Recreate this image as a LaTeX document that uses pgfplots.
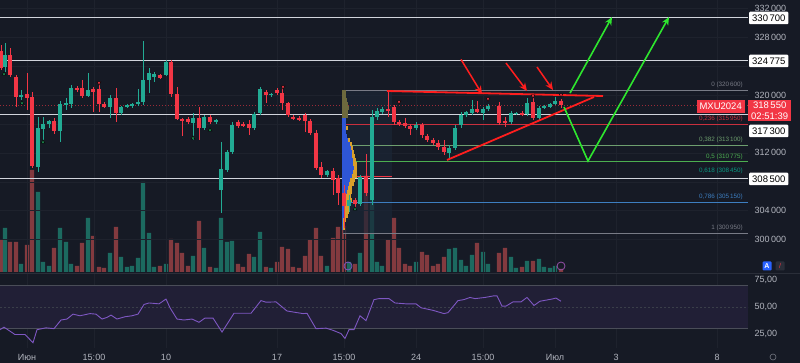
\documentclass[border=0pt]{standalone}
\usepackage{pgfplots}
\pgfplotsset{compat=1.18}
\usepackage{pgfplotstable}
\usepackage{fontspec}
\setmainfont{Liberation Sans}
\usetikzlibrary{arrows.meta}

\definecolor{bg}{HTML}{161A25}
\definecolor{gridc}{HTML}{1E222D}
\definecolor{tgray}{HTML}{B2B5BE}
\definecolor{hline}{HTML}{D1D4DC}
\definecolor{cup}{HTML}{22AB94}
\definecolor{cdn}{HTML}{F23645}
\definecolor{vup}{HTML}{1C6A60}
\definecolor{vdn}{HTML}{833A3F}
\definecolor{rsic}{HTML}{7E57C2}
\definecolor{rsiband}{HTML}{211F36}
\definecolor{rsilvl}{HTML}{4A4D58}
\definecolor{fibgray}{HTML}{787B86}
\definecolor{fibred}{HTML}{C9303E}
\definecolor{fib382}{HTML}{6E9F6F}
\definecolor{fib5}{HTML}{4CAF50}
\definecolor{fib618}{HTML}{089981}
\definecolor{fib786}{HTML}{3D7EC0}
\definecolor{vpblue}{HTML}{2E56D6}
\definecolor{vpyel}{HTML}{D9A02B}
\definecolor{vpolive}{HTML}{6D6A3E}
\definecolor{boxfill}{HTML}{1B2636}
\definecolor{trred}{HTML}{FF1E1E}
\definecolor{trgreen}{HTML}{2EE62E}
\definecolor{sigup}{HTML}{1E8A50}
\definecolor{abtn}{HTML}{2962FF}
\definecolor{sepc}{HTML}{2A2E39}

% up candles: x open high low close (thousands)
\pgfplotstableread[row sep=\\]{
x o h l c\\
5 323.9 327.2 323.2 325.5\\
21 319.7 320.7 319.3 320.0\\
38 310.1 317.0 309.4 315.4\\
43 315.3 317.0 313.8 316.0\\
49 316.0 316.5 315.4 316.4\\
60 315.0 319.2 313.5 318.7\\
66 318.6 319.6 317.9 318.9\\
71 318.7 321.4 318.2 321.0\\
88 319.8 323.0 319.7 320.7\\
110 318.3 320.0 316.8 319.6\\
121 317.5 318.5 317.2 318.3\\
127 318.3 318.7 318.2 318.6\\
132 318.5 318.9 318.2 318.7\\
138 318.7 320.8 318.5 319.0\\
143 319.0 327.4 318.6 322.1\\
149 322.1 323.7 320.3 323.0\\
154 322.5 323.2 321.8 322.9\\
166 322.7 324.8 322.6 324.5\\
193 316.1 317.5 313.8 316.8\\
204 315.4 317.2 315.2 317.0\\
216 316.3 316.7 316.0 316.5\\
221 306.9 313.5 303.7 309.8\\
227 309.6 312.4 309.4 312.1\\
232 312.1 316.3 311.8 315.9\\
254 315.4 317.6 315.2 317.4\\
260 317.5 321.1 317.2 320.8\\
271 320.0 320.3 319.7 320.15\\
327 308.9 309.6 308.7 309.5\\
349 304.7 306.2 303.8 305.5\\
360 304.9 308.9 304.7 308.7\\
372 305.5 317.9 304.8 317.0\\
377 317.0 318.2 316.5 317.8\\
382 317.6 318.3 317.4 318.1\\
416 315.4 316.3 315.2 315.9\\
449 312.0 313.1 311.3 312.7\\
455 312.7 315.9 312.4 315.4\\
461 315.9 317.6 315.4 317.2\\
466 317.2 317.8 317.0 317.6\\
472 317.5 319.3 317.2 318.1\\
483 317.5 318.3 316.5 318.1\\
488 318.1 318.7 317.8 318.5\\
511 316.3 317.8 316.0 317.5\\
516 317.4 317.7 317.2 317.55\\
527 317.4 319.6 317.1 318.9\\
539 316.8 318.5 316.5 318.2\\
544 318.2 318.6 318.1 318.5\\
550 318.3 318.9 318.2 318.7\\
555 318.7 319.7 318.6 319.2\\
}\upT

% down candles
\pgfplotstableread[row sep=\\]{
x o h l c\\
1 326.1 326.9 323.4 323.7\\
10 325.5 326.5 322.5 322.7\\
16 322.5 322.7 318.3 319.7\\
27 320.1 323.0 317.9 319.6\\
32 319.7 320.4 309.9 310.2\\
54 316.4 316.8 314.6 315.0\\
77 321.0 321.2 320.4 320.7\\
82 321.0 322.1 319.6 319.8\\
93 320.8 321.1 317.6 320.4\\
99 320.8 321.8 317.6 318.7\\
104 318.7 319.0 318.2 318.3\\
116 319.6 321.0 316.3 317.5\\
160 322.7 322.9 322.2 322.3\\
171 324.5 324.8 319.7 320.1\\
177 320.1 321.1 316.5 316.7\\
182 316.7 316.8 314.3 316.4\\
188 316.7 317.0 316.0 316.3\\
199 316.8 318.3 313.8 315.4\\
210 317.0 317.2 316.0 316.3\\
238 316.3 316.5 315.4 315.7\\
243 316.0 316.3 315.6 315.7\\
249 316.0 316.5 314.5 315.4\\
266 320.4 320.7 318.9 320.0\\
277 320.7 321.0 320.0 320.3\\
282 320.3 321.2 317.9 318.9\\
288 318.9 319.0 317.0 317.2\\
293 317.0 317.2 316.5 316.7\\
299 316.8 317.1 316.4 316.5\\
305 317.2 317.5 314.9 316.4\\
310 316.4 316.7 314.5 314.7\\
316 314.7 315.2 309.6 309.9\\
321 310.1 310.7 308.5 308.9\\
333 309.5 309.9 306.2 308.3\\
338 308.5 308.9 304.8 306.5\\
344 306.5 307.6 301.6 304.7\\
355 305.5 305.8 304.4 304.9\\
366 308.7 311.8 306.1 306.5\\
388 318.1 320.7 317.0 317.8\\
394 318.3 318.6 315.9 316.3\\
399 316.3 316.5 315.7 316.0\\
405 316.1 316.8 315.4 315.7\\
410 315.7 316.0 314.5 315.3\\
422 315.9 316.1 314.1 314.5\\
427 314.3 314.6 313.5 313.8\\
433 313.8 314.1 313.1 313.4\\
438 313.4 313.8 312.4 312.8\\
444 312.8 313.8 311.7 312.1\\
477 318.1 319.2 317.5 317.6\\
499 318.5 319.0 315.9 316.1\\
505 316.4 317.0 315.6 316.1\\
522 317.5 317.8 317.1 317.2\\
533 319.0 319.6 316.5 316.8\\
561 319.2 319.4 318.2 318.55\\
}\dnT

% volumes (arbitrary units)
\pgfplotstableread[row sep=\\]{
x v\\
5 44\\ 21 8\\ 38 80\\ 43 10\\ 49 6\\ 60 44\\ 66 30\\ 71 8\\ 88 54\\ 110 19\\
121 15\\ 127 5\\ 132 6\\ 138 14\\ 143 90\\ 149 39\\ 154 5\\ 166 8\\ 193 16\\ 204 24\\
216 4\\ 221 54\\ 227 30\\ 232 31\\ 254 15\\ 260 40\\ 271 4\\ 327 6\\ 349 10\\ 360 19\\
372 75\\ 377 10\\ 382 6\\ 416 10\\ 449 23\\ 455 24\\ 461 12\\ 466 6\\ 472 17\\ 483 20\\
488 8\\ 511 15\\ 516 4\\ 527 11\\ 539 13\\ 544 5\\ 550 4\\ 555 6\\
}\volU
\pgfplotstableread[row sep=\\]{
x v\\
1 32\\ 10 30\\ 16 30\\ 27 27\\ 32 102\\ 54 24\\ 77 6\\ 82 29\\ 93 36\\ 99 5\\
104 4\\ 116 45\\ 160 6\\ 171 33\\ 177 29\\ 182 19\\ 188 6\\ 199 51\\ 210 5\\ 238 8\\
243 5\\ 249 18\\ 266 5\\ 277 10\\ 282 25\\ 288 23\\ 293 5\\ 299 4\\ 305 16\\ 310 32\\
316 44\\ 321 16\\ 333 34\\ 338 45\\ 344 46\\ 355 8\\ 366 97\\ 388 32\\ 394 54\\ 399 24\\
405 8\\ 410 6\\ 422 20\\ 427 17\\ 433 6\\ 438 8\\ 444 15\\ 477 29\\ 499 19\\ 505 24\\
522 5\\ 533 11\\ 561 3\\
}\volD

% volume profile: price, blue width, yellow width
\pgfplotstableread[row sep=\\]{
p b w\\
320.40 0 4\\ 319.85 0 4\\ 319.30 0 5\\ 318.75 0 6\\ 318.20 2 5\\ 317.64 2 4\\ 317.09 3 3\\
316.54 4 0\\ 315.99 4 0\\ 315.44 4 1\\ 314.88 4 0\\ 314.33 5 0\\ 313.78 6 1\\ 313.23 8 1\\
312.68 9 2\\ 312.12 10 2\\ 311.57 10 3\\ 311.02 11 3\\ 310.47 11 4\\ 309.92 12 3\\ 309.36 11 4\\
308.81 10 5\\ 308.26 8 5\\ 307.71 7 5\\ 307.16 6 4\\ 306.60 5 5\\ 306.05 4 5\\ 305.50 4 6\\
304.95 3 6\\ 304.40 2 5\\ 303.84 2 5\\ 303.29 2 4\\ 302.74 1 3\\ 302.19 1 2\\ 301.64 1 2\\
}\vpT

% RSI
\pgfplotstableread[row sep=\\]{
x r\\
0 29.2\\ 4 31.5\\ 15 24.7\\ 25 24.7\\ 33 17.2\\ 37 29.2\\ 46 30.9\\ 54 30.1\\ 61 38.1\\ 67 39.0\\
73 43.5\\ 80 42.0\\ 90 44.0\\ 96 43.5\\ 102 39.0\\ 107 40.5\\ 111 42.6\\ 117 39.0\\ 125 41.1\\ 132 42.0\\
138 43.5\\ 144 52.4\\ 149 53.8\\ 159 53.0\\ 166 57.4\\ 170 49.4\\ 177 39.0\\ 184 38.1\\ 192 39.0\\ 199 36.0\\
205 39.9\\ 213 39.9\\ 222 27.0\\ 234 44.3\\ 241 44.3\\ 251 44.3\\ 261 56.0\\ 266 54.5\\ 276 54.8\\ 287 46.4\\
303 44.0\\ 307 44.3\\ 316 30.1\\ 326 30.6\\ 333 28.6\\ 341 25.6\\ 345 21.1\\ 349 29.2\\ 354 29.2\\ 360 42.0\\
366 37.5\\ 374 56.9\\ 379 57.8\\ 389 57.8\\ 395 53.8\\ 406 53.0\\ 416 53.0\\ 421 49.4\\ 433 47.0\\ 444 44.0\\
448 44.9\\ 458 56.0\\ 464 56.9\\ 470 58.9\\ 475 57.8\\ 485 58.9\\ 494 60.4\\ 497 60.4\\ 502 50.9\\ 506 50.9\\
513 54.8\\ 521 54.8\\ 527 58.9\\ 534 51.5\\ 540 55.4\\ 552 57.4\\ 556 58.3\\ 561 55.4\\
}\rsiT

\newcommand{\fs}[1]{\fontsize{#1}{#1}\selectfont}

\begin{document}
\begin{tikzpicture}[x=1pt,y=1pt]
\fill[bg] (0pt,0pt) rectangle (800pt,-363pt);
\useasboundingbox (0pt,0pt) rectangle (800pt,-363pt);

% ---------- volume pane ----------
\begin{axis}[at={(0pt,0pt)}, anchor=north west, scale only axis,
  width=748pt, height=272pt, xmin=0, xmax=748, ymin=0, ymax=272,
  axis line style={draw=none}, ticks=none]
\addplot[ybar, bar width=4.3pt, bar shift=0pt, fill=vdn, draw=none] table[x=x,y=v]{\volD};
\addplot[ybar, bar width=4.3pt, bar shift=0pt, fill=vup, draw=none] table[x=x,y=v]{\volU};
\end{axis}

% ---------- price pane ----------
\begin{axis}[at={(0pt,0pt)}, anchor=north west, scale only axis,
  width=748pt, height=272pt, xmin=0, xmax=748, ymin=295.56, ymax=333.1,
  axis line style={draw=none}, major tick length=0pt,
  xtick={27,94,166,277,344,416,483,555,616,717}, xticklabels={},
  ytick={300,304,...,332},
  yticklabels={300\,000,304\,000,{},312\,000,{},320\,000,{},328\,000,332\,000},
  yticklabel pos=right,
  yticklabel style={anchor=west, text=tgray, font=\fs{9}, xshift=3pt},
  xmajorgrids, ymajorgrids, grid style={gridc, line width=0.7pt}]

% fib box
\addplot[fill=boxfill, draw=none, fill opacity=0.7] coordinates {(343,300.95) (392,300.95) (392,320.6) (343,320.6)} -- cycle;

% current price dotted
\addplot[cdn!60!bg, dash pattern=on 1pt off 2pt, line width=0.7pt] coordinates {(0,318.55) (748,318.55)};

% fib levels
\addplot[fibgray, line width=0.8pt] coordinates {(343,320.6) (748,320.6)};
\addplot[fibred, line width=0.8pt] coordinates {(343,315.95) (748,315.95)};
\addplot[fib382, line width=0.8pt] coordinates {(343,313.1) (748,313.1)};
\addplot[fib5, line width=0.8pt] coordinates {(343,310.775) (748,310.775)};
\addplot[fib618, line width=0.8pt] coordinates {(343,308.45) (748,308.45)};
\addplot[fib786, line width=0.8pt] coordinates {(343,305.15) (748,305.15)};
\addplot[fibgray, line width=0.8pt] coordinates {(343,300.95) (748,300.95)};
\addplot[cdn, line width=0.8pt] coordinates {(343,308.7) (392,308.7)};

% key horizontal levels
\addplot[hline, line width=1.3pt] coordinates {(0,330.7) (748,330.7)};
\addplot[hline, line width=1.3pt] coordinates {(0,324.775) (748,324.775)};
\addplot[hline, line width=1.3pt] coordinates {(0,317.3) (748,317.3)};
\addplot[hline, line width=1.3pt] coordinates {(0,308.5) (748,308.5)};

% volume profile
\addplot[mark=none, draw=none, restrict y to domain=300:316.8,
  error bars/.cd, x dir=both, x explicit, error mark=none,
  error bar style={draw=vpblue, line width=3.5pt}]
  table[y=p, x expr={342+\thisrow{b}/2}, x error expr={\thisrow{b}/2}]{\vpT};
\addplot[mark=none, draw=none, restrict y to domain=300:316.8,
  error bars/.cd, x dir=both, x explicit, error mark=none,
  error bar style={draw=vpyel, line width=3.5pt}]
  table[y=p, x expr={342+\thisrow{b}+\thisrow{w}/2}, x error expr={\thisrow{w}/2}]{\vpT};
\addplot[mark=none, draw=none, restrict y to domain=316.8:322,
  error bars/.cd, x dir=both, x explicit, error mark=none,
  error bar style={draw=vpolive, line width=3.5pt}]
  table[y=p, x expr={342+(\thisrow{b}+\thisrow{w})/2}, x error expr={(\thisrow{b}+\thisrow{w})/2}]{\vpT};

% candles: wicks
\addplot[mark=none, draw=none, error bars/.cd, y dir=both, y explicit, error mark=none,
  error bar style={draw=cup, line width=0.9pt}]
  table[x=x, y expr={(\thisrow{h}+\thisrow{l})/2}, y error expr={(\thisrow{h}-\thisrow{l})/2}]{\upT};
\addplot[mark=none, draw=none, error bars/.cd, y dir=both, y explicit, error mark=none,
  error bar style={draw=cdn, line width=0.9pt}]
  table[x=x, y expr={(\thisrow{h}+\thisrow{l})/2}, y error expr={(\thisrow{h}-\thisrow{l})/2}]{\dnT};
% candles: bodies
\addplot[mark=none, draw=none, error bars/.cd, y dir=both, y explicit, error mark=none,
  error bar style={draw=cup, line width=4.2pt}]
  table[x=x, y expr={(\thisrow{o}+\thisrow{c})/2}, y error expr={abs(\thisrow{c}-\thisrow{o})/2}]{\upT};
\addplot[mark=none, draw=none, error bars/.cd, y dir=both, y explicit, error mark=none,
  error bar style={draw=cdn, line width=4.2pt}]
  table[x=x, y expr={(\thisrow{o}+\thisrow{c})/2}, y error expr={abs(\thisrow{c}-\thisrow{o})/2}]{\dnT};

% signal markers
\addplot[only marks, mark=triangle*, mark size=2.2pt, mark options={rotate=180, fill=cdn, draw=none}]
  coordinates {(99,321.65) (283,321.09) (399,319.02) (488,319.44) (533,319.85) (561,319.99)};
\addplot[only marks, mark=triangle*, mark size=2.2pt, mark options={fill=sigup, draw=none}]
  coordinates {(4,322.89) (22,318.89) (43,313.5) (193,314.06) (210,315.16) (355,304.26)};

% triangle pattern
\addplot[trred, line width=1.8pt] coordinates {(387,320.54) (603,319.85)};
\addplot[trred, line width=1.8pt] coordinates {(447,311.02) (594,319.71)};
\addplot[trred, line width=1.5pt, -{Stealth[length=8pt,width=7pt]}] coordinates {(461,324.9) (482,320.13)};
\addplot[trred, line width=1.5pt, -{Stealth[length=8pt,width=7pt]}] coordinates {(506,324.41) (527,320.54)};
\addplot[trred, line width=1.5pt, -{Stealth[length=8pt,width=7pt]}] coordinates {(537,323.85) (553,320.68)};

% scenarios
\addplot[trgreen, line width=1.6pt, -{Stealth[length=8pt,width=7pt]}] coordinates {(570,320.25) (612,330.75)};
\addplot[trgreen, line width=1.6pt, -{Stealth[length=8pt,width=7pt]}] coordinates {(564,318.33) (588,310.88) (669,330.75)};

% fib labels
\node[anchor=south east, font=\fs{6.3}, text=fibgray, inner sep=1pt] at (axis cs:744,320.75) {0 (320\,600)};
\node[anchor=south east, font=\fs{6.3}, text=fibred, inner sep=1pt] at (axis cs:744,316.1) {0,236 (315\,950)};
\node[anchor=south east, font=\fs{6.3}, text=fib382, inner sep=1pt] at (axis cs:744,313.25) {0,382 (313\,100)};
\node[anchor=south east, font=\fs{6.3}, text=fib5, inner sep=1pt] at (axis cs:744,310.9) {0,5 (310\,775)};
\node[anchor=south east, font=\fs{6.3}, text=fib618, inner sep=1pt] at (axis cs:744,308.9) {0,618 (308\,450)};
\node[anchor=south east, font=\fs{6.3}, text=fib786, inner sep=1pt] at (axis cs:744,305.3) {0,786 (305\,150)};
\node[anchor=south east, font=\fs{6.3}, text=fibgray, inner sep=1pt] at (axis cs:744,301.1) {1 (300\,950)};
\end{axis}

% pane separator
\draw[sepc, line width=0.8pt] (0pt,-273.5pt) -- (800pt,-273.5pt);

% ---------- RSI pane ----------
\begin{axis}[at={(0pt,-274pt)}, anchor=north west, scale only axis,
  width=748pt, height=74pt, xmin=0, xmax=748, ymin=12.3, ymax=80.5,
  axis line style={draw=none}, major tick length=0pt,
  xtick={27,94,166,277,344,416,483,555,616,717},
  xticklabels={Июн,15:00,10,17,15:00,24,15:00,Июл,3,8},
  xticklabel style={text=tgray, font=\fs{9}, yshift=-3pt},
  ytick={25,50,75}, yticklabels={{25,00},{50,00},{75,00}},
  yticklabel pos=right,
  yticklabel style={anchor=west, text=tgray, font=\fs{9}, xshift=3pt},
  xmajorgrids, grid style={gridc, line width=0.7pt}]
\addplot[fill=rsiband, draw=none] coordinates {(0,30) (748,30) (748,70) (0,70)} -- cycle;
\addplot[rsilvl, line width=0.8pt] coordinates {(0,70) (748,70)};
\addplot[rsilvl, line width=0.8pt] coordinates {(0,30) (748,30)};
\addplot[rsilvl!70!bg, dash pattern=on 2pt off 2pt, line width=0.6pt] coordinates {(0,50) (748,50)};
\addplot[rsic, line width=0.9pt] table[x=x,y=r]{\rsiT};
\end{axis}

% ---------- price scale labels ----------
\tikzset{wbox/.style={fill=white, text=black, font=\fs{9.5}, anchor=west, inner xsep=3pt, inner ysep=0pt, minimum height=12.5pt, rounded corners=1pt}}
\node[wbox] at (749pt,-18pt) {330\,700};
\node[wbox] at (749pt,-61pt) {324\,775};
\node[wbox] at (749pt,-131pt) {317\,300};
\node[wbox] at (749pt,-179pt) {308\,500};
\node[fill=cdn, text=white, font=\fs{9.5}, anchor=east, inner xsep=3pt, inner ysep=0pt, minimum height=13pt] at (745pt,-106.5pt) {MXU2024};
\node[fill=cdn, text=white, font=\fs{9.5}, anchor=north west, inner xsep=3pt, inner ysep=2pt, align=center] at (748pt,-100pt) {318\,550\\[1pt]02:51:39};

% small icons
\node[fill=abtn, text=white, font=\fs{7}\bfseries, rounded corners=1pt, minimum size=9pt, inner sep=0pt] at (767pt,-266pt) {A};
\node[fill=sepc, text=cdn, font=\fs{7}, rounded corners=1pt, minimum size=9pt, inner sep=0pt] at (780pt,-266pt) {/};
\draw[rsic, line width=0.8pt] (348pt,-266pt) circle (4pt);
\draw[rsic!80!cdn, line width=0.8pt] (561pt,-266pt) circle (4pt);
\draw[tgray!60!bg, line width=0.6pt] (773pt,-357pt) circle (3pt);
\end{tikzpicture}
\end{document}
